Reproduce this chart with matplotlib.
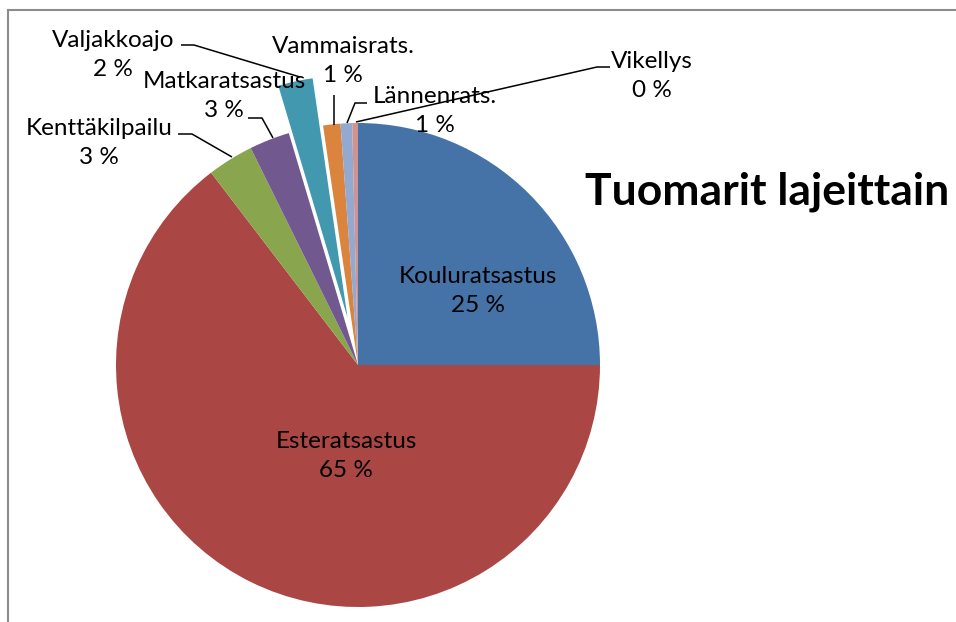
import matplotlib
matplotlib.use("Agg")
import matplotlib.pyplot as plt
from matplotlib.lines import Line2D

# Data (counts)
categories = ["Kouluratsastus", "Esteratsastus", "Kenttäkilpailu", "Matkaratsastus",
              "Valjakkoajo", "Vammaisrats.", "Lännenrats.", "Vikellys"]
values = [65, 168, 8, 7, 6, 3, 2, 1]
explode_flags = [0, 0, 0, 0, 0.2, 0, 0, 0]
colors = ["#4572A7", "#AA4643", "#89A54E", "#71588F", "#4198AF", "#DB843D", "#93A9CF", "#D19392"]
title = "Tuomarit lajeittain"

W, H = 956, 622
FONT = "Lato"

fig = plt.figure(figsize=(W / 100, H / 100), dpi=100)
ax = fig.add_axes([0, 0, 1, 1])

cx, cy, R = 358, H - 365, 242
ax.pie(values, explode=[e * R for e in explode_flags], colors=colors, startangle=90,
       counterclock=False, center=(cx, cy), radius=R, wedgeprops=dict(linewidth=0))
ax.set_xlim(0, W)
ax.set_ylim(0, H)
ax.set_aspect("equal", adjustable="box")
ax.axis("off")

total = sum(values)
pcts = [f"{round(v / total * 100):.0f} %" for v in values]

def P(x, y):
    return (x, H - y)

# label positions (pixel coordinates of text centre)
label_pos = {
    "Kouluratsastus": (478, 291),
    "Esteratsastus": (346, 456),
    "Kenttäkilpailu": (99, 143),
    "Matkaratsastus": (224, 96),
    "Valjakkoajo": (113, 55),
    "Vammaisrats.": (343, 61),
    "Lännenrats.": (435, 111),
    "Vikellys": (652, 76),
}
fs = 17.5
for name, pct in zip(categories, pcts):
    x, y = label_pos[name]
    ax.text(*P(x, y), f"{name}\n{pct}", ha="center", va="center", fontsize=fs,
            family=FONT, linespacing=1.45, color="black")

# leader lines (pixel coordinates)
leaders = [
    [(178, 134), (192, 134), (232, 157)],
    [(248, 118), (262, 118), (273, 138)],
    [(181, 45), (194, 45), (300, 77)],
    [(334, 95), (334, 125)],
    [(367, 103), (355, 103), (347, 123)],
    [(610, 67), (597, 67), (356, 122)],
]
for seg in leaders:
    xs = [p[0] for p in seg]
    ys = [H - p[1] for p in seg]
    ax.plot(xs, ys, color="black", lw=1.1, solid_capstyle="butt")

ax.text(*P(767, 192), title, ha="center", va="center", fontsize=32,
        fontweight="bold", family=FONT)

# chart border
fig.add_artist(Line2D([8 / W, 1], [1 - 10 / H, 1 - 10 / H], color="#8c8c8c", lw=1.5,
                      transform=fig.transFigure))
fig.add_artist(Line2D([8 / W, 8 / W], [0, 1 - 10 / H], color="#8c8c8c", lw=1.5,
                      transform=fig.transFigure))

fig.savefig("out.png", dpi=100)
